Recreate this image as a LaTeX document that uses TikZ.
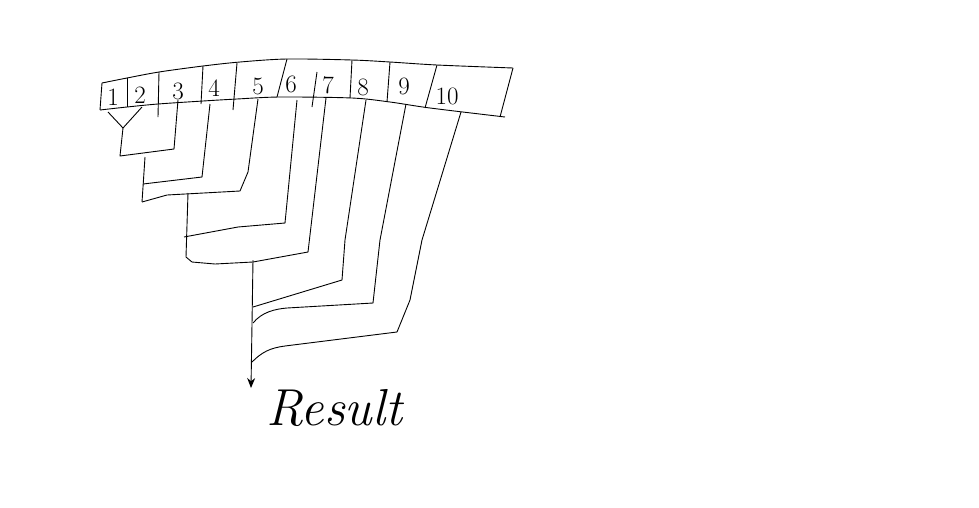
\documentclass[tikz,border=0pt]{standalone}
\usepackage{xcolor}
\usepackage{tikz}
\usetikzlibrary{arrows.meta, positioning, calc}
\definecolor{ink}{HTML}{000000}

\begin{document}
\begin{tikzpicture}[
    x=1pt, y=-1pt,
    wire/.style={line width=0.9pt, color=ink, line join=round},
    cellnum/.style={font=\fontsize{25}{25}\selectfont, inner sep=0pt},
    resultlabel/.style={font=\itshape\fontsize{52}{52}\selectfont, inner sep=0pt},
    arrow/.style={wire, -{Stealth[length=10pt, width=8pt]}}
]
\useasboundingbox (0,0) rectangle (979,507);

% Array outline
\draw[wire] plot[smooth] coordinates {(102,83) (127,78) (159,72) (203,66) (240,62) (287,59) (352,60) (390,62) (437,65) (513,68)};
\draw[wire] plot[smooth] coordinates {(100,110) (127,107) (158,104) (203,101) (237,99) (280,97) (352,98) (390,102) (430,108) (505,117)};
\draw[wire] (102,83) -- (100,110);
\draw[wire] (513,68) -- (500,117);

% Cell dividers
\draw[wire] (127,78) -- (127,107);
\draw[wire] (159,72) -- (158,117);
\draw[wire] (203,66) -- (201,104);
\draw[wire] (237,63) -- (233,110);
\draw[wire] (287,59) -- (277,97);
\draw[wire] (317,72) -- (312,107);
\draw[wire] (352,60) -- (350,98);
\draw[wire] (390,62) -- (387,102);
\draw[wire] (437,65) -- (425,108);

% Cell labels
\node[cellnum] (c1) at (113,97) {1};
\node[cellnum] (c2) at (140,95) {2};
\node[cellnum] (c3) at (178,91) {3};
\node[cellnum] (c4) at (214,88) {4};
\node[cellnum] (c5) at (258,86) {5};
\node[cellnum] (c6) at (291,84) {6};
\node[cellnum] (c7) at (328,85) {7};
\node[cellnum] (c8) at (363,87) {8};
\node[cellnum] (c9) at (404,86) {9};
\node[cellnum] (c10) at (447,96) {10};

% Drop points under the cells
\coordinate (d1) at (108,112);
\coordinate (d2) at (142,107);
\coordinate (d3) at (178,100);
\coordinate (d4) at (210,104);
\coordinate (d5) at (258,99);
\coordinate (d6) at (297,100);
\coordinate (d7) at (326,98);
\coordinate (d8) at (366,100);
\coordinate (d9) at (406,104);
\coordinate (d10) at (461,112);

% Junctions
\coordinate (v12) at (123,128);
\coordinate (s1) at (120,156);
\coordinate (s2t) at (145,157);
\coordinate (s2) at (142,202);
\coordinate (s3t) at (188,193);
\coordinate (s3) at (186,257);
\coordinate (s4t) at (253,260);
\coordinate (s4) at (251,388);

% Merges
\draw[wire] (d1) -- (v12) -- (d2);
\draw[wire] (v12) -- (s1) -- (174,149) -- (d3);
\draw[wire] (s2t) -- (s2);
\draw[wire] (143,184) -- (202,177) -- (d4);
\draw[wire] (s2) -- (167,195) -- (240,191) -- (248,172) -- (d5);
\draw[wire] (s3t) -- (s3);
\draw[wire] (184,237) -- (238,227) -- (285,223) -- (d6);
\draw[wire] (s3) -- (192,262) -- (215,264) -- (253,262) -- (308,252) -- (d7);
\draw[arrow] (s4t) -- (s4);
\draw[wire] (253,307) -- (342,280) -- (345,240) -- (d8);
\draw[wire] (253,323) .. controls (262,312) and (275,309) .. (287,308) -- (373,303) -- (380,240) -- (d9);
\draw[wire] (252,362) .. controls (262,352) and (270,348) .. (285,346) -- (397,332) -- (410,300) -- (422,240) -- (d10);

% Result
\node[resultlabel, anchor=west, right=15pt of s4, yshift=-20pt] (result) {Result};

\end{tikzpicture}
\end{document}
